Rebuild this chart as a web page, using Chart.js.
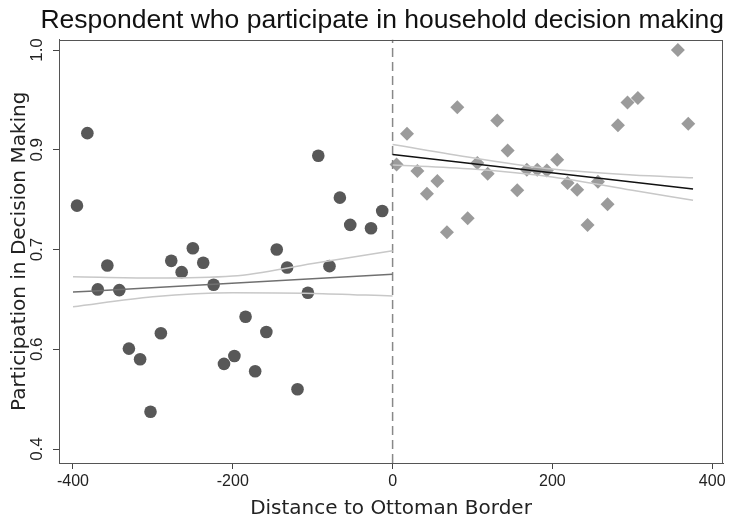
<!DOCTYPE html>
<html>
<head>
<meta charset="utf-8">
<script src="https://cdn.jsdelivr.net/npm/chart.js@4/dist/chart.umd.min.js"></script>
<style>
  body { margin: 0; background: #fff; }
  #wrap { width: 730px; height: 525px; }
</style>
</head>
<body>
<div id="wrap"><canvas id="chart" width="730" height="525"></canvas></div>
<script>
// West of the border (circles)
var leftX = [-395,-382,-369,-357,-342,-330,-316,-303,-290,-277,-264,-250,-237,-224,-211,-198,-184,-172,-158,-145,-132,-119,-106,-93,-79,-66,-53,-27,-13];
var leftY = [0.766,0.875,0.640,0.676,0.639,0.551,0.535,0.456,0.574,0.683,0.666,0.702,0.680,0.647,0.528,0.540,0.599,0.517,0.576,0.700,0.673,0.490,0.635,0.841,0.675,0.778,0.737,0.732,0.758];

// East of the border (diamonds)
var rightX = [5,18,31,43,56,68,81,94,106,119,131,144,156,168,181,193,206,219,231,244,257,269,282,294,307,357,370];
var rightY = [0.828,0.874,0.818,0.784,0.803,0.726,0.914,0.747,0.830,0.814,0.894,0.849,0.789,0.820,0.820,0.819,0.835,0.800,0.790,0.737,0.802,0.768,0.887,0.921,0.928,1.000,0.889];

// Fitted lines and confidence bands
var leftFitX = [-400, 0];
var leftFitY = [0.636, 0.663];
var leftCIX = [-400, -300, -200, -100, 0];
var leftUpper = [0.659, 0.657, 0.660, 0.679, 0.698];
var leftLower = [0.614, 0.629, 0.635, 0.634, 0.630];

var rightFitX = [0, 376];
var rightFitY = [0.843, 0.791];
var rightCIX = [0, 100, 200, 300, 376];
var rightUpper = [0.858, 0.838, 0.821, 0.812, 0.808];
var rightLower = [0.827, 0.821, 0.809, 0.789, 0.774];

// Axis ticks (y labels are rounded, as in the original)
var xTicks = [-400, -200, 0, 200, 400];
var yTicks = [0.4, 0.55, 0.7, 0.85, 1.0];
var yTickLabels = ['0.4', '0.6', '0.7', '0.9', '1.0'];

var xMin = -417.5, xMax = 413.5, yMin = 0.379, yMax = 1.0158;

function pts(xs, ys) {
    return xs.map(function(x, i){ return {x: x, y: ys[i]}; });
}

function curve(xs, ys, color, width) {
    return {
        data: pts(xs, ys),
        showLine: true,
        borderColor: color,
        borderWidth: width,
        pointRadius: 0,
        cubicInterpolationMode: 'monotone',
        fill: false
    };
}

// Box round the plot area
var framePlugin = {
    id: 'plotFrame',
    afterDraw: function(chart) {
        var a = chart.chartArea, ctx = chart.ctx;
        ctx.save();
        ctx.strokeStyle = '#555';
        ctx.lineWidth = 1;
        ctx.setLineDash([]);
        ctx.strokeRect(Math.round(a.left) + 0.5, Math.round(a.top) + 0.5,
            Math.round(a.right - a.left) - 1, Math.round(a.bottom - a.top) - 1);
        ctx.restore();
    }
};

var tickFont = {family: '"Liberation Sans", Arial, sans-serif', size: 16};
var titleFont = {family: '"DejaVu Sans", sans-serif', size: 20, lineHeight: 1.2};

new Chart(document.getElementById('chart'), {
    type: 'scatter',
    data: {
        datasets: [
            curve(leftCIX, leftUpper, '#c8c8c8', 1.5),
            curve(leftCIX, leftLower, '#c8c8c8', 1.5),
            curve(leftFitX, leftFitY, '#707070', 1.5),
            curve(rightCIX, rightUpper, '#c8c8c8', 1.5),
            curve(rightCIX, rightLower, '#c8c8c8', 1.5),
            curve(rightFitX, rightFitY, '#111', 1.5),
            {
                // border at distance 0
                data: [{x: 0, y: yMin}, {x: 0, y: yMax}],
                showLine: true,
                borderColor: '#888',
                borderWidth: 1.5,
                borderDash: [9, 5],
                pointRadius: 0
            },
            {
                data: pts(leftX, leftY),
                pointStyle: 'circle',
                pointRadius: 6.3,
                backgroundColor: '#585858',
                borderWidth: 0
            },
            {
                data: pts(rightX, rightY),
                pointStyle: 'rectRot',
                pointRadius: 7,
                backgroundColor: '#9b9b9b',
                borderWidth: 0
            }
        ]
    },
    options: {
        responsive: false,
        animation: false,
        layout: {padding: {left: 0, right: 6, top: 0, bottom: 0}},
        plugins: {
            legend: {display: false},
            tooltip: {enabled: false},
            title: {
                display: true,
                text: 'Respondent who participate in household decision making',
                align: 'end',
                color: '#111',
                font: {family: '"Liberation Sans", Arial, sans-serif', size: 26.5, weight: 'normal', lineHeight: 1.0},
                padding: {top: 7, bottom: 6}
            }
        },
        scales: {
            x: {
                type: 'linear',
                min: xMin,
                max: xMax,
                afterBuildTicks: function(scale){
                    scale.ticks = xTicks.map(function(v){ return {value: v}; });
                },
                afterFit: function(scale){ scale.height = 62; },
                grid: {display: true, drawOnChartArea: false, drawTicks: true, tickLength: 6, color: '#444'},
                border: {display: true, color: '#555'},
                ticks: {color: '#222', font: tickFont, padding: 3, maxRotation: 0,
                    callback: function(v){ return String(v); }},
                title: {display: true, text: 'Distance to Ottoman Border', color: '#222', font: titleFont, padding: {top: 0, bottom: 4}}
            },
            y: {
                type: 'linear',
                min: yMin,
                max: yMax,
                afterBuildTicks: function(scale){
                    scale.ticks = yTicks.map(function(v){ return {value: v}; });
                },
                afterFit: function(scale){ scale.width = 59; },
                grid: {display: true, drawOnChartArea: false, drawTicks: true, tickLength: 6, color: '#444'},
                border: {display: true, color: '#555'},
                ticks: {color: '#222', font: {family: '"Liberation Sans", Arial, sans-serif', size: 17},
                    padding: 4, minRotation: 90, maxRotation: 90, crossAlign: 'center',
                    callback: function(v){
                        var i = yTicks.indexOf(v);
                        return i >= 0 ? yTickLabels[i] : '';
                    }},
                title: {display: true, text: 'Participation in Decision Making', color: '#222', font: titleFont, padding: {top: 8, bottom: 0}}
            }
        }
    },
    plugins: [framePlugin]
});
</script>
</body>
</html>
